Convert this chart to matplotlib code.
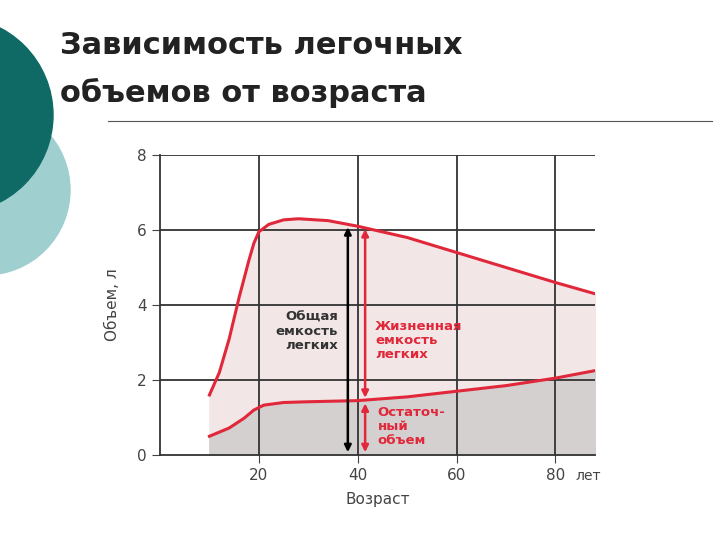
import matplotlib
matplotlib.use('Agg')
import matplotlib.pyplot as plt
from matplotlib.patches import Circle

# data
age_tlc = [10, 12, 14, 16, 18, 19, 20, 22, 25, 28, 34, 40, 50, 60, 70, 80, 88]
tlc = [1.6, 2.2, 3.1, 4.2, 5.2, 5.65, 5.95, 6.15, 6.27, 6.3, 6.25, 6.1, 5.8, 5.4, 5.0, 4.6, 4.3]
age_rv = [10, 14, 17, 19, 21, 25, 30, 40, 50, 60, 70, 80, 88]
rv = [0.5, 0.72, 0.98, 1.2, 1.33, 1.4, 1.42, 1.45, 1.55, 1.7, 1.85, 2.05, 2.25]
xticks = [20, 40, 60, 80]
yticks = [0, 2, 4, 6, 8]

fig = plt.figure(figsize=(7.2, 5.4), dpi=100)

# background decoration of the slide
bg = fig.add_axes([0, 0, 1, 1], zorder=0)
bg.set_xlim(0, 720)
bg.set_ylim(540, 0)
bg.axis('off')
bg.add_patch(Circle((-15, 190), 85, color='#9fcfcf'))
bg.add_patch(Circle((-45, 115), 98, color='#0f6a66'))
bg.plot([108, 712], [121, 121], color='#555555', lw=0.8)
bg.text(60, 45, 'Зависимость легочных', fontsize=22, fontweight='bold', va='center', color='#222222')
bg.text(60, 93, 'объемов от возраста', fontsize=22, fontweight='bold', va='center', color='#222222')

ax = fig.add_axes([160 / 720, 1 - 455 / 540, 435 / 720, 300 / 540], zorder=1)
ax.set_xlim(0, 88)
ax.set_ylim(0, 8)
ax.set_facecolor('white')

ax.fill_between(age_tlc, tlc, 0, color='#f3e6e6', zorder=0)
ax.fill_between(age_rv, rv, 0, color='#d4d0d0', zorder=0)

ax.plot(age_tlc, tlc, color='#e0283a', lw=2.2, zorder=3)
ax.plot(age_rv, rv, color='#e0283a', lw=2.2, zorder=3)

for x in xticks:
    ax.axvline(x, color='#333333', lw=1.3, zorder=1)
for y in yticks[1:]:
    ax.axhline(y, color='#333333', lw=1.3, zorder=1)

ax.annotate('', xy=(38, 6.15), xytext=(38, 0), arrowprops=dict(arrowstyle='<|-|>', color='black', lw=1.8))
ax.annotate('', xy=(41.5, 6.1), xytext=(41.5, 1.45), arrowprops=dict(arrowstyle='<|-|>', color='#e0283a', lw=1.8))
ax.annotate('', xy=(41.5, 1.45), xytext=(41.5, 0), arrowprops=dict(arrowstyle='<|-|>', color='#e0283a', lw=1.8))

ax.text(36, 3.3, 'Общая\nемкость\nлегких', ha='right', va='center', fontsize=9.5, fontweight='bold', color='#333333', linespacing=1.1)
ax.text(43.5, 3.05, 'Жизненная\nемкость\nлегких', ha='left', va='center', fontsize=9.5, fontweight='bold', color='#e0283a', linespacing=1.1)
ax.text(44, 0.75, 'Остаточ-\nный\nобъем', ha='left', va='center', fontsize=9.5, fontweight='bold', color='#e0283a', linespacing=1.1)

ax.set_xticks(xticks)
ax.set_xticklabels(['20', '40', '60', '80'], fontsize=11, color='#444444')
ax.text(84, -0.55, 'лет', fontsize=10, color='#444444', ha='left', va='center')
ax.set_yticks(yticks)
ax.set_yticklabels([str(v) for v in yticks], fontsize=11, color='#444444')
ax.tick_params(length=6, color='#444444')
ax.set_xlabel('Возраст', fontsize=11, color='#444444', labelpad=6)
ax.set_ylabel('Объем, л', fontsize=11, color='#444444', labelpad=12)
for s in ['top', 'right']:
    ax.spines[s].set_visible(False)
for s in ['left', 'bottom']:
    ax.spines[s].set_color('#333333')
    ax.spines[s].set_linewidth(1.3)

fig.savefig('out.png', dpi=100)
